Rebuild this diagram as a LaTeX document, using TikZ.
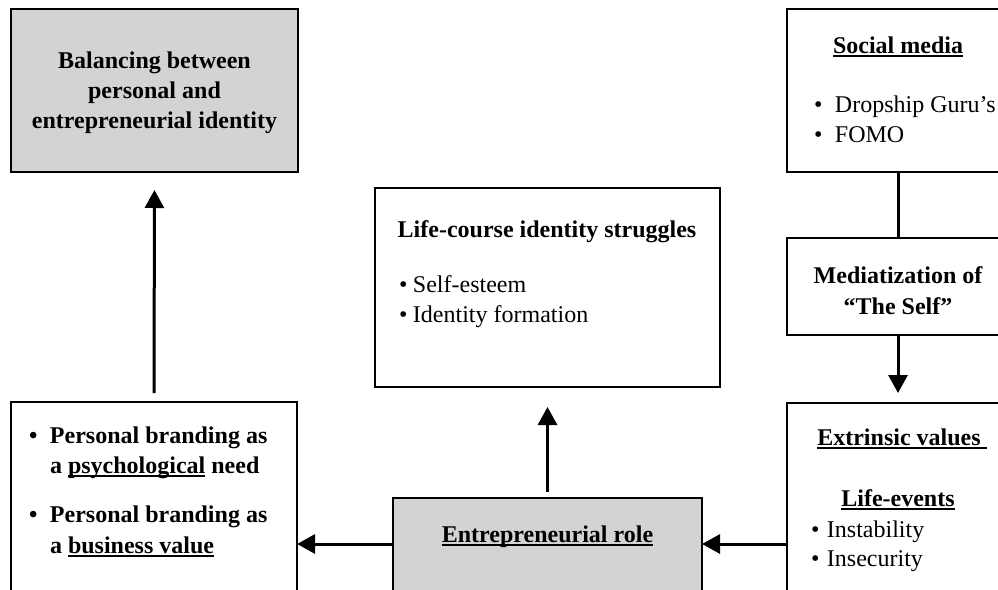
\documentclass[tikz,border=0pt]{standalone}
\usepackage{fontspec}
\setmainfont{Liberation Serif}
\usetikzlibrary{arrows.meta}
\definecolor{boxgray}{RGB}{211,211,211}
\newsavebox\ulbox
\newcommand{\myul}[1]{\sbox\ulbox{#1}\rlap{\rule[-3.5pt]{\wd\ulbox}{1.4pt}}\usebox\ulbox}
\newcommand{\bul}[2]{\makebox[#1][l]{•}#2}
\tikzset{
  every node/.style={font=\fontsize{24}{30}\selectfont, inner sep=0pt, outer sep=0pt},
  box/.style={draw=black, line width=2pt, fill=white, anchor=north west},
  graybox/.style={box, fill=boxgray},
  conn/.style={line width=3pt},
  arr/.style={conn, -{Triangle[length=18pt,width=19pt]}},
  tl/.style={anchor=base},
  tw/.style={anchor=base west},
}
\begin{document}
\begin{tikzpicture}[x=1pt,y=-1pt]
\useasboundingbox (0,0) rectangle (998,589);
\clip (0,0) rectangle (998,589);
% boxes
\node[graybox, minimum width=287pt, minimum height=163pt] (bal) at (11,9) {};
\node[box, minimum width=345pt, minimum height=199pt] (lc) at (375,188) {};
\node[box, minimum width=222pt, minimum height=163pt] (soc) at (787,9) {};
\node[box, minimum width=222pt, minimum height=97pt] (med) at (787,238) {};
\node[box, minimum width=286pt, minimum height=218pt] (pb) at (11,402) {};
\node[graybox, minimum width=309pt, minimum height=122pt] (er) at (393,498) {};
\node[box, minimum width=222pt, minimum height=217pt] (ext) at (787,403) {};
% texts
\node[tl] (bal1) at (154.5,68) {\bfseries Balancing between};
\node[tl] (bal2) at (154.5,98) {\bfseries personal and};
\node[tl] (bal3) at (154.5,128) {\bfseries entrepreneurial identity};

\node[tl] (soc1) at (898,53) {\bfseries\myul{Social media}};
\node[tw] (soc2) at (814,112) {\bul{21pt}{Dropship Guru’s}};
\node[tw] (soc3) at (814,142) {\bul{21pt}{FOMO}};

\node[tl] (med1) at (898,283) {\bfseries Mediatization of};
\node[tl] (med2) at (898,314) {\bfseries “The Self”};

\node[tl] (lc1) at (547,237) {\bfseries Life-course identity struggles};
\node[tw] (lc2) at (399,292) {\bul{14pt}{Self-esteem}};
\node[tw] (lc3) at (399,322) {\bul{14pt}{Identity formation}};

\node[tw] (pb1) at (29,443) {\bfseries\bul{21pt}{Personal branding as}};
\node[tw] (pb2) at (50,473) {\bfseries a \myul{psychological} need};
\node[tw] (pb3) at (29,522) {\bfseries\bul{21pt}{Personal branding as}};
\node[tw] (pb4) at (50,553) {\bfseries a \myul{business value}};

\node[tl] (er1) at (547.5,542) {\bfseries\myul{Entrepreneurial role}};

\node[tl] (ext1) at (902,445) {\bfseries\myul{Extrinsic values\ }};
\node[tl] (ext2) at (898,506) {\bfseries\myul{Life-events}};
\node[tw] (ext3) at (811,537) {\bul{16pt}{Instability}};
\node[tw] (ext4) at (811,566) {\bul{16pt}{Insecurity}};
% connectors
\coordinate (h) at (0,544);
\draw[arr, shorten <=9pt, shorten >=18pt] (pb.north) -- (bal.south);
\draw[arr, shorten <=6pt, shorten >=20pt] (er.north) -- (lc.south);
\draw[conn] (soc.south) -- (med.north);
\draw[arr, shorten >=10pt] (med.south) -- (ext.north);
\draw[arr] (ext.west |- h) -- (er.east |- h);
\draw[arr] (er.west |- h) -- (pb.east |- h);
\end{tikzpicture}
\end{document}
